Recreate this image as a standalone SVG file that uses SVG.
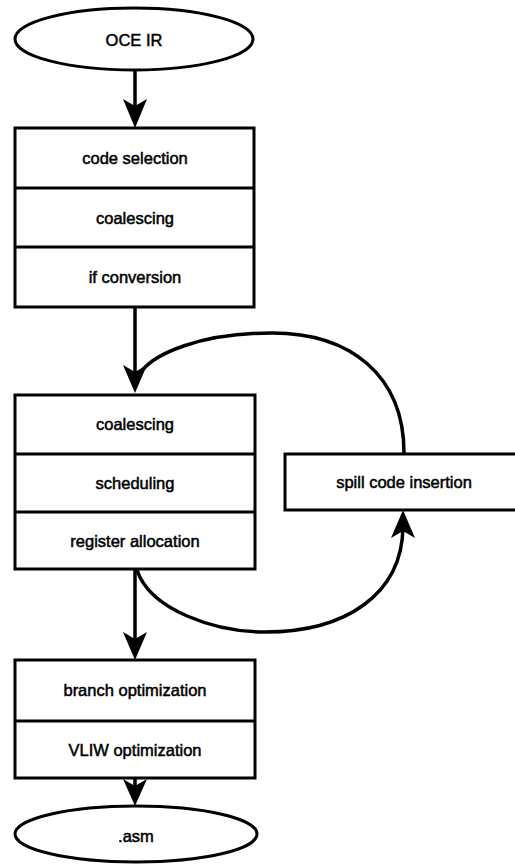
<svg xmlns="http://www.w3.org/2000/svg" width="515" height="865" viewBox="0 0 515 865">
<style>
  .box { fill: #fff; stroke: #000; stroke-width: 3; }
  .div { stroke: #000; stroke-width: 3; }
  .lbl { font-family: "Liberation Sans", Arial, sans-serif; font-size: 16.5px; fill: #000; stroke: #000; stroke-width: 0.5; text-anchor: middle; dominant-baseline: central; }
  .conn { fill: none; stroke: #000; stroke-width: 3.5; }
  .head { fill: #000; stroke: none; }
</style>
<rect width="515" height="865" fill="#fff"/>

<g id="oce-ir">
  <ellipse class="box" cx="134" cy="39" rx="119" ry="31"/>
  <text class="lbl" x="134" y="40">OCE IR</text>
</g>

<g id="stage1">
  <rect class="box" x="15" y="128" width="239" height="179"/>
  <line class="div" x1="15" y1="188" x2="254" y2="188"/>
  <line class="div" x1="15" y1="247" x2="254" y2="247"/>
  <text class="lbl" x="135" y="158">code selection</text>
  <text class="lbl" x="135" y="218">coalescing</text>
  <text class="lbl" x="135" y="277">if conversion</text>
</g>

<g id="stage2">
  <rect class="box" x="15" y="395" width="240" height="174"/>
  <line class="div" x1="15" y1="454" x2="255" y2="454"/>
  <line class="div" x1="15" y1="512" x2="255" y2="512"/>
  <text class="lbl" x="135" y="424">coalescing</text>
  <text class="lbl" x="135" y="483">scheduling</text>
  <text class="lbl" x="135" y="541">register allocation</text>
</g>

<g id="spill">
  <rect class="box" x="285" y="454" width="240" height="56"/>
  <text class="lbl" x="404" y="482">spill code insertion</text>
</g>

<g id="stage3">
  <rect class="box" x="15" y="660" width="240" height="118"/>
  <line class="div" x1="15" y1="721" x2="255" y2="721"/>
  <text class="lbl" x="135" y="690">branch optimization</text>
  <text class="lbl" x="135" y="750">VLIW optimization</text>
</g>

<g id="asm">
  <ellipse class="box" cx="136" cy="834" rx="121" ry="28"/>
  <text class="lbl" x="136" y="836">.asm</text>
</g>

<g id="connectors">
  <line class="conn" x1="135" y1="70" x2="135" y2="110"/>
  <path class="head" d="M135,128 L123,99 L135,106 L147,99 Z"/>

  <line class="conn" x1="135" y1="307" x2="135" y2="375"/>
  <path class="head" d="M135,393 L123,365 L135,372 L147,365 Z"/>

  <path class="conn" d="M404,453 C404,375 350,333 272,333 C205,333 150,352 137,378"/>

  <path class="conn" d="M137,570 C150,610 215,632 265,632 C345,632 402,595 403,527"/>
  <path class="head" d="M403,510 L391,538 L403,531 L415,538 Z"/>

  <line class="conn" x1="135" y1="569" x2="135" y2="642"/>
  <path class="head" d="M135,660 L123,632 L135,639 L147,632 Z"/>

  <line class="conn" x1="135" y1="778" x2="135" y2="790"/>
  <path class="head" d="M135,806 L123,779 L135,786 L147,779 Z"/>
</g>
</svg>
